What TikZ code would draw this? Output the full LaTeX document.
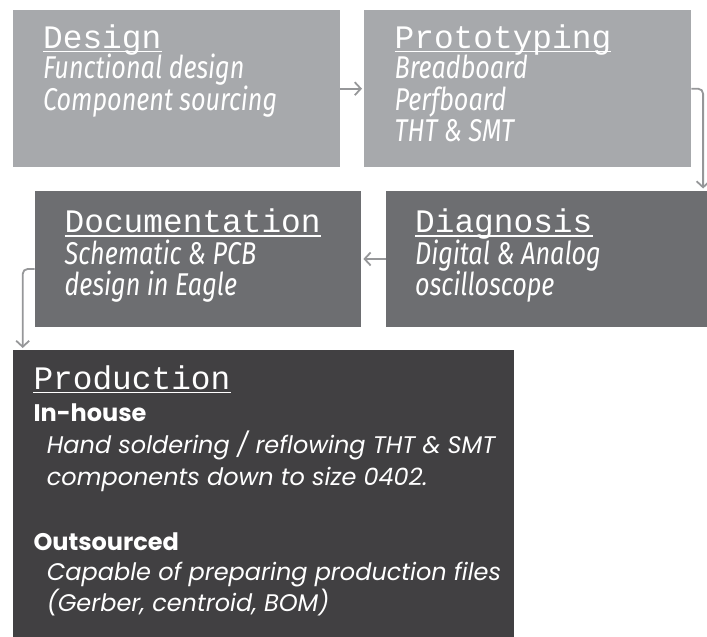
\documentclass[tikz,border=0pt]{standalone}
\usepackage{fontspec}
\usetikzlibrary{arrows.meta}
\newfontfamily\titlefont{Liberation Mono}
\newfontfamily\bodyfont[FakeStretch=0.8]{Fira Sans}
\newfontfamily\prodfont{Poppins}
\definecolor{boxA}{RGB}{167,169,172}
\definecolor{boxB}{RGB}{109,110,113}
\definecolor{boxC}{RGB}{65,64,66}
\definecolor{arrowgray}{RGB}{150,151,153}
\begin{document}
\begin{tikzpicture}[x=1pt,y=-1pt,
  panel/.style={draw=none,inner sep=0,anchor=north west},
  ttl/.style={anchor=base west,inner sep=0,text=white,font=\titlefont\fontsize{32.8}{32.8}\selectfont},
  bdy/.style={anchor=base west,inner sep=0,text=white,font=\bodyfont\itshape\fontsize{31.5}{31.5}\selectfont},
  pbdy/.style={anchor=base west,inner sep=0,text=white,font=\prodfont\itshape\fontsize{24}{24}\selectfont},
  phead/.style={anchor=base west,inner sep=0,text=white,font=\prodfont\bfseries\fontsize{24}{24}\selectfont},
  uline/.style={draw=white,line width=1.4pt},
  arr/.style={draw=arrowgray,line width=1.8pt,-{Straight Barb[length=6pt,width=13pt,line width=1.8pt]},shorten >=2pt}
]
\useasboundingbox (0,0) rectangle (707,637);
% boxes
\node[panel,fill=boxA,minimum width=327.5pt,minimum height=157pt] (design) at (12.5,10) {};
\node[panel,fill=boxA,minimum width=327pt,minimum height=157pt] (proto) at (364,10) {};
\node[panel,fill=boxB,minimum width=326.5pt,minimum height=136.5pt] (doc) at (34.5,190.5) {};
\node[panel,fill=boxB,minimum width=321pt,minimum height=136.5pt] (diag) at (386,190.5) {};
\node[panel,fill=boxC,minimum width=501.5pt,minimum height=287pt] (prod) at (12.5,350) {};
% Design
\node[ttl] (designT) at (43,48.3) {Design};
\draw[uline] ([yshift=-3pt]designT.base west) -- ([yshift=-3pt]designT.base east);
\node[bdy] (designA) at (43,78.5) {Functional design};
\node[bdy] (designB) at (43,110) {Component sourcing};
% Prototyping
\node[ttl] (protoT) at (394.5,48.3) {Prototyping};
\draw[uline] ([yshift=-3pt]protoT.base west) -- ([yshift=-3pt]protoT.base east);
\node[bdy] (protoA) at (394.5,78.5) {Breadboard};
\node[bdy] (protoB) at (394.5,110) {Perfboard};
\node[bdy] (protoC) at (394.5,141.5) {THT \& SMT};
% Documentation
\node[ttl] (docT) at (64.5,232.5) {Documentation};
\draw[uline] ([yshift=-3.5pt]docT.base west) -- ([yshift=-3.5pt]docT.base east);
\node[bdy] (docA) at (64.5,264) {Schematic \& PCB};
\node[bdy] (docB) at (64.5,295.5) {design in Eagle};
% Diagnosis
\node[ttl] (diagT) at (415,232.5) {Diagnosis};
\draw[uline] ([yshift=-3.5pt]diagT.base west) -- ([yshift=-3.5pt]diagT.base east);
\node[bdy] (diagA) at (415,264) {Digital \& Analog};
\node[bdy] (diagB) at (415,295.5) {oscilloscope};
% Production
\node[ttl] (prodT) at (33.3,389.5) {Production};
\draw[uline] ([yshift=-3pt]prodT.base west) -- ([yshift=-3pt]prodT.base east);
\node[phead] (prodH1) at (33.3,421.7) {In-house};
\node[pbdy] (prodA) at (46.7,453) {Hand soldering / reflowing THT \& SMT};
\node[pbdy] (prodB) at (46.7,485.7) {components down to size 0402.};
\node[phead] (prodH2) at (33.3,550) {Outsourced};
\node[pbdy] (prodC) at (46.7,580.7) {Capable of preparing production files};
\node[pbdy] (prodD) at (46.7,611.7) {(Gerber, centroid, BOM)};
% connectors
\draw[arr] (design.east) -- (proto.west);
\draw[arr,rounded corners=5pt] (proto.east) -| ([xshift=-4.3pt]diag.north east);
\draw[arr] (diag.west) -- (doc.east);
\draw[arr,rounded corners=5pt] ([yshift=-10pt]doc.west) -| ([xshift=10.2pt]prod.north west);
\end{tikzpicture}
\end{document}
